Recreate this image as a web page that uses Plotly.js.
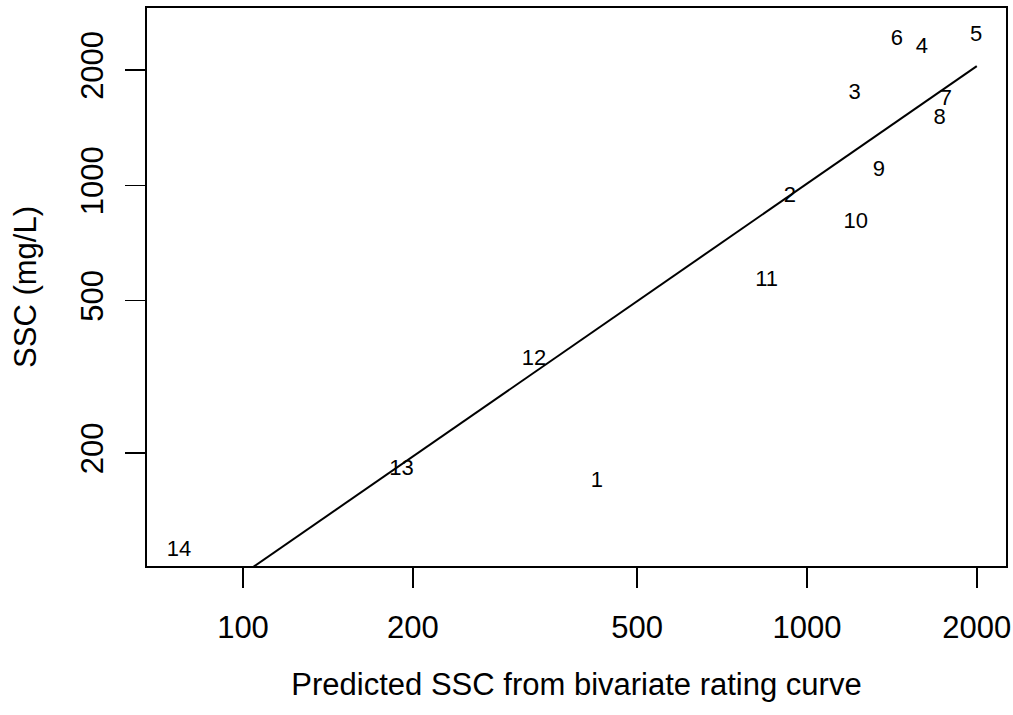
<!DOCTYPE html>
<html>
<head>
<meta charset="utf-8">
<script src="https://cdn.plot.ly/plotly-3.0.1.min.js"></script>
<style>
  html, body { margin: 0; padding: 0; background: #ffffff; }
  #chart { width: 1013px; height: 715px; }
</style>
</head>
<body>
<div id="chart"></div>
<script>
// Sample labels
const labels = ["1","2","3","4","5","6","7","8","9","10","11","12","13","14"];
// Predicted SSC from bivariate rating curve (x)
const predicted = [424, 932, 1215, 1598, 1995, 1443, 1762, 1719, 1341, 1220, 848, 328, 191, 77];
// Observed SSC (mg/L) (y)
const observed = [169, 936, 1742, 2296, 2465, 2410, 1680, 1490, 1095, 801, 565, 350, 181, 111];
// Fitted line endpoints
const lineX = [77, 2000];
const lineY = [74, 2048];
// Tick values
const xTicks = [100, 200, 500, 1000, 2000];
const yTicks = [200, 500, 1000, 2000];

const FONT = "Liberation Sans, Arial, Helvetica, sans-serif";

const traces = [
  {
    x: lineX, y: lineY, type: "scatter", mode: "lines",
    line: { color: "#000000", width: 2 },
    hoverinfo: "skip", showlegend: false
  },
  {
    x: predicted, y: observed, type: "scatter", mode: "text",
    text: labels, textposition: "middle center",
    textfont: { family: FONT, size: 22, color: "#000000" },
    showlegend: false, cliponaxis: false
  }
];

const layout = {
  width: 1013, height: 715,
  margin: { l: 147, r: 7, t: 8, b: 149 },
  paper_bgcolor: "#ffffff", plot_bgcolor: "#ffffff",
  font: { family: FONT, color: "#000000", size: 30 },
  showlegend: false,
  xaxis: {
    type: "log",
    range: [1.8298, 3.3528],
    tickvals: xTicks, ticktext: xTicks.map(String),
    ticks: "outside", ticklen: 20, tickwidth: 1.5, tickcolor: "#000000",
    showline: true, linecolor: "#000000", linewidth: 2, mirror: true,
    showgrid: false, zeroline: false,
    tickfont: { family: FONT, size: 31, color: "#000000" },
    ticklabelstandoff: 13,
    title: { text: "Predicted SSC from bivariate rating curve", font: { family: FONT, size: 31, color: "#000000" }, standoff: 29 },
    automargin: false
  },
  yaxis: {
    type: "log",
    range: [2.006, 3.463],
    tickvals: yTicks, ticktext: yTicks.map(String),
    tickangle: -90,
    ticks: "outside", ticklen: 20, tickwidth: 1.5, tickcolor: "#000000",
    showline: true, linecolor: "#000000", linewidth: 2, mirror: true,
    showgrid: false, zeroline: false,
    tickfont: { family: FONT, size: 31, color: "#000000" },
    ticklabelstandoff: 10,
    title: { text: "SSC (mg/L)", font: { family: FONT, size: 31, color: "#000000" }, standoff: 29 },
    automargin: false
  }
};

Plotly.newPlot("chart", traces, layout, { staticPlot: true, displayModeBar: false });
</script>
</body>
</html>
